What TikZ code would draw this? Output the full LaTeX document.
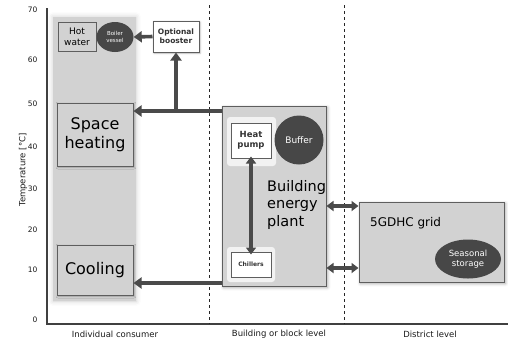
\documentclass[tikz,border=0pt]{standalone}
\usepackage{fontspec}
\setmainfont{DejaVu Sans}
\usetikzlibrary{arrows.meta,shadows.blur,shapes.geometric}
\definecolor{boxgray}{HTML}{D2D2D2}
\definecolor{darkfill}{HTML}{474747}
\definecolor{arrowgray}{HTML}{4A4A4A}
\definecolor{edgegray}{HTML}{5E5E5E}
\tikzset{
  lightbox/.style={draw=edgegray, line width=1pt, fill=boxgray, inner sep=0pt},
  whitebox/.style={draw=edgegray, line width=1pt, fill=white, inner sep=0pt, font=\bfseries\fontsize{7.5}{9}\selectfont, text=black!80, align=center},
  halo/.style={fill=gray!10, draw=none, rounded corners=3pt},
  darkblob/.style={fill=darkfill, draw=none, text=white, align=center},
  flow/.style={draw=arrowgray, line width=3.6pt, -{Triangle[length=8pt,width=11pt]}},
  dflow/.style={draw=arrowgray, line width=3.2pt, {Triangle[length=7pt,width=10pt]}-{Triangle[length=7pt,width=10pt]}},
  tick/.style={font=\fontsize{7.5}{8}\selectfont, anchor=east, text=black!90},
  levellabel/.style={font=\fontsize{8.5}{10}\selectfont, text=black!90},
  bigtext/.style={font=\fontsize{16}{19}\selectfont, align=center, text=black},
}
\begin{document}
\begin{tikzpicture}[x=1pt,y=-1pt]
\useasboundingbox (0,0) rectangle (508,341);
% shaded consumer column
\fill[boxgray, blur shadow={shadow xshift=0pt, shadow yshift=0pt, shadow blur radius=5pt, shadow opacity=20}] (53,17) rectangle (136,301);
% axes
\draw[line width=1.3pt, black!75] (47,8) -- (47,324) -- (508,324);
\draw[dashed, line width=0.7pt, black!85] (209,5) -- (209,324);
\draw[dashed, line width=0.7pt, black!85] (344,5) -- (344,324);
% ticks
\node[tick] (t70) at (41,10) {70};
\node[tick] (t60) at (41,60) {60};
\node[tick] (t50) at (41,104) {50};
\node[tick] (t40) at (41,147) {40};
\node[tick] (t30) at (41,189) {30};
\node[tick] (t20) at (41,230) {20};
\node[tick] (t10) at (41,270) {10};
\node[tick] (t0) at (41,320) {0};
\node[rotate=90, font=\fontsize{8.5}{10}\selectfont, text=black!90] (ylab) at (23,170) {Temperature [°C]};
% level labels
\node[levellabel] (l1) at (115,334) {Individual consumer};
\node[levellabel] (l2) at (279,334) {Building or block level};
\node[levellabel] (l3) at (430,334) {District level};
% consumer boxes
\node[lightbox, minimum width=38pt, minimum height=29pt, font=\fontsize{9}{11}\selectfont, align=center] (hot) at (77,36.5) {Hot\\water};
\node[darkblob, ellipse, minimum width=37pt, minimum height=30pt, inner sep=0pt, font=\fontsize{5.5}{6.5}\selectfont] (boiler) at (115,37) {Boiler\\vessel};
\node[whitebox, minimum width=46pt, minimum height=31pt, blur shadow={shadow blur radius=2pt, shadow xshift=1pt, shadow yshift=-1pt, shadow opacity=30}] (booster) at (176,36.5) {Optional\\booster};
\node[lightbox, minimum width=76pt, minimum height=63pt, bigtext, blur shadow={shadow blur radius=2pt, shadow xshift=1pt, shadow yshift=-1pt, shadow opacity=25}] (space) at (95,134.5) {Space\\heating};
\node[lightbox, minimum width=76pt, minimum height=50pt, bigtext, blur shadow={shadow blur radius=2pt, shadow xshift=1pt, shadow yshift=-1pt, shadow opacity=25}] (cool) at (95,270) {Cooling};
% building energy plant
\node[lightbox, minimum width=104pt, minimum height=180pt, blur shadow={shadow blur radius=3pt, shadow xshift=1.5pt, shadow yshift=-1.5pt, shadow opacity=35}] (plant) at (274,196) {};
\fill[halo] (227,117) rectangle (276,166);
\node[whitebox, minimum width=40pt, minimum height=35pt, font=\bfseries\fontsize{8.5}{10.5}\selectfont] (hp) at (251,140.5) {Heat\\pump};
\node[darkblob, circle, minimum size=49pt, inner sep=0pt, font=\fontsize{9}{11}\selectfont] (buffer) at (299,140) {Buffer};
\node[anchor=north west, align=left, font=\fontsize{14.5}{17.5}\selectfont, text=black, inner sep=0pt] (bep) at (267,180) {Building\\energy\\plant};
\fill[halo] (227,247) rectangle (275,282);
\node[whitebox, minimum width=40pt, minimum height=25pt, font=\bfseries\fontsize{6}{7}\selectfont] (chill) at (251,264.5) {Chillers};
% district grid
\node[lightbox, minimum width=145pt, minimum height=80pt, blur shadow={shadow blur radius=3pt, shadow xshift=1.5pt, shadow yshift=-1.5pt, shadow opacity=35}] (grid) at (431.5,242) {};
\node[anchor=west, font=\fontsize{12}{14}\selectfont, text=black, inner sep=0pt] (gridlab) at (370,223) {5GDHC grid};
\node[darkblob, ellipse, minimum width=66pt, minimum height=39pt, inner sep=0pt, font=\fontsize{8.5}{10.5}\selectfont] (seasonal) at (468,259) {Seasonal\\storage};
% connectors
\coordinate (split) at (176,111);
\draw[flow] (plant.west |- split) -- (space.east |- split);
\draw[flow] (split) -- (booster.south);
\draw[flow] (booster.west) -- (boiler.east);
\coordinate (coolrow) at (222,283);
\draw[flow] (plant.west |- coolrow) -- (cool.east |- coolrow);
\draw[dflow] ([yshift=2pt]hp.south) -- ([yshift=-3pt]chill.north);
\coordinate (r1) at (326,206);
\coordinate (r2) at (326,268);
\draw[dflow] (plant.east |- r1) -- (grid.west |- r1);
\draw[dflow] (plant.east |- r2) -- (grid.west |- r2);
\end{tikzpicture}
\end{document}
